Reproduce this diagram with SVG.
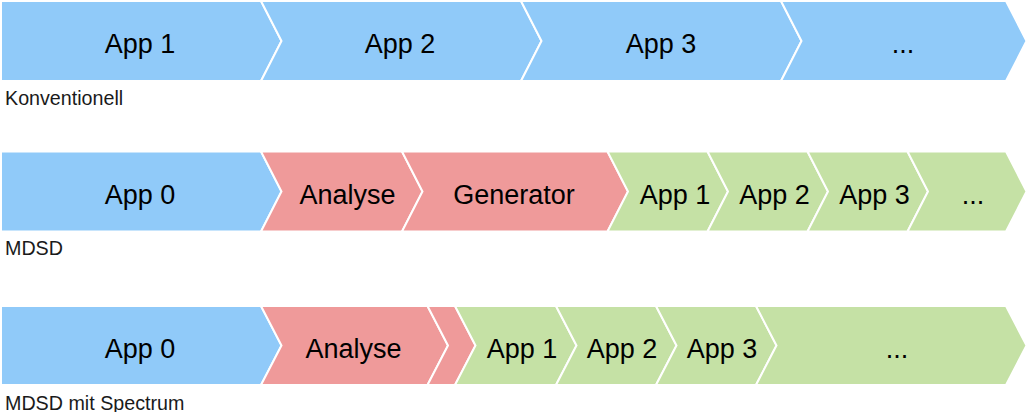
<svg xmlns="http://www.w3.org/2000/svg" width="1028" height="412" viewBox="0 0 1028 412">
<style>
.s{stroke:#FFFFFF;stroke-width:2;stroke-linejoin:miter}
.b{fill:#90CAF9}
.r{fill:#EF9A9A}
.g{fill:#C5E1A5}
.t{font-family:"Liberation Sans",Arial,sans-serif;font-size:27px;fill:#000;text-anchor:middle}
.l{font-family:"Liberation Sans",Arial,sans-serif;font-size:19.7px;fill:#1a1a1a}
</style>
<rect width="1028" height="412" fill="#FFFFFF"/>
<g id="row1">
<g id="r1-app1"><polygon class="s b" points="1,1 261,1 281.5,41 261,81 1,81"/><text class="t" x="140" y="53">App 1</text></g>
<g id="r1-app2"><polygon class="s b" points="261,1 521,1 541.5,41 521,81 261,81 281.5,41"/><text class="t" x="400" y="53">App 2</text></g>
<g id="r1-app3"><polygon class="s b" points="521,1 781,1 801.5,41 781,81 521,81 541.5,41"/><text class="t" x="661" y="53">App 3</text></g>
<g id="r1-more"><polygon class="s b" points="781,1 1006,1 1026.5,41 1006,81 781,81 801.5,41"/><text class="t" x="903" y="53">...</text></g>
</g>
<g id="row2">
<g id="r2-app0"><polygon class="s b" points="1,151.5 261,151.5 281.5,191.5 261,231.5 1,231.5"/><text class="t" x="140" y="203.5">App 0</text></g>
<g id="r2-analyse"><polygon class="s r" points="261,151.5 402,151.5 422.5,191.5 402,231.5 261,231.5 281.5,191.5"/><text class="t" x="347.5" y="203.5">Analyse</text></g>
<g id="r2-generator"><polygon class="s r" points="402,151.5 607.5,151.5 628,191.5 607.5,231.5 402,231.5 422.5,191.5"/><text class="t" x="514" y="203.5">Generator</text></g>
<g id="r2-app1"><polygon class="s g" points="607.5,151.5 707.5,151.5 728,191.5 707.5,231.5 607.5,231.5 628,191.5"/><text class="t" x="675" y="203.5">App 1</text></g>
<g id="r2-app2"><polygon class="s g" points="707.5,151.5 807.5,151.5 828,191.5 807.5,231.5 707.5,231.5 728,191.5"/><text class="t" x="774.5" y="203.5">App 2</text></g>
<g id="r2-app3"><polygon class="s g" points="807.5,151.5 907.5,151.5 928,191.5 907.5,231.5 807.5,231.5 828,191.5"/><text class="t" x="874.5" y="203.5">App 3</text></g>
<g id="r2-more"><polygon class="s g" points="907.5,151.5 1006,151.5 1026.5,191.5 1006,231.5 907.5,231.5 928,191.5"/><text class="t" x="973" y="203.5">...</text></g>
</g>
<g id="row3">
<g id="r3-app0"><polygon class="s b" points="1,306 261,306 281.5,345.5 261,385 1,385"/><text class="t" x="140" y="357.5">App 0</text></g>
<g id="r3-analyse"><polygon class="s r" points="261,306 427.5,306 448,345.5 427.5,385 261,385 281.5,345.5"/><text class="t" x="353.5" y="357.5">Analyse</text></g>
<g id="r3-step"><polygon class="s r" points="427.5,306 455,306 475.5,345.5 455,385 427.5,385 448,345.5"/></g>
<g id="r3-app1"><polygon class="s g" points="455,306 556,306 576.5,345.5 556,385 455,385 475.5,345.5"/><text class="t" x="522" y="357.5">App 1</text></g>
<g id="r3-app2"><polygon class="s g" points="556,306 656,306 676.5,345.5 656,385 556,385 576.5,345.5"/><text class="t" x="622" y="357.5">App 2</text></g>
<g id="r3-app3"><polygon class="s g" points="656,306 756,306 776.5,345.5 756,385 656,385 676.5,345.5"/><text class="t" x="722" y="357.5">App 3</text></g>
<g id="r3-more"><polygon class="s g" points="756,306 1006,306 1026.5,345.5 1006,385 756,385 776.5,345.5"/><text class="t" x="897" y="357.5">...</text></g>
</g>
<g id="labels">
<text class="l" x="5" y="104.5">Konventionell</text>
<text class="l" x="5" y="255">MDSD</text>
<text class="l" x="5" y="409.5">MDSD mit Spectrum</text>
</g>
<g id="connectors"></g>
</svg>
